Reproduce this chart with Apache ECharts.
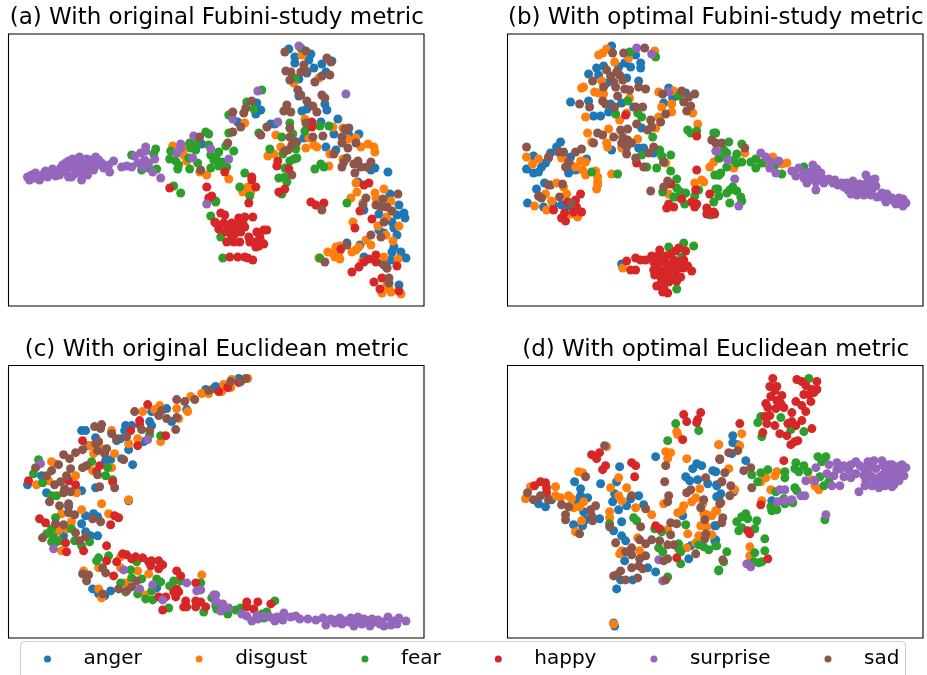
<!DOCTYPE html>
<html><head><meta charset="utf-8">
<script src="https://cdn.jsdelivr.net/npm/echarts@6/dist/echarts.min.js"></script>
<style>html,body{margin:0;padding:0;background:#fff}#c{width:927px;height:675px}</style>
</head><body><div id="c"></div>
<script>
const emotions=['anger','disgust','fear','happy','surprise','sad'];
const colors=['#1f77b4','#ff7f0e','#2ca02c','#d62728','#9467bd','#8c564b'];
const panelTitles=['(a) With original Fubini-study metric','(b) With optimal Fubini-study metric','(c) With original Euclidean metric','(d) With optimal Euclidean metric'];

const aAnger=[[193,110],[280,15],[286,23],[286,29],[302,20],[300,26],[298,39],[305,34],[313,30],[323,27],[317,38],[290,45],[290,62],[247,80],[252,76],[248,69],[229,88],[293,77],[298,75],[316,70],[318,76],[262,90],[266,90],[295,104],[312,88],[329,85],[325,100],[340,101],[350,100],[317,113],[327,116],[362,136],[366,134],[379,138],[349,148],[381,160],[370,180],[390,171],[388,181],[395,179],[396,184],[383,188],[385,194],[370,196],[388,201],[375,199],[338,209],[351,211],[355,223],[385,213],[383,218],[392,218],[397,224],[373,229],[382,226],[378,234],[390,251],[355,176],[288,108]];
const aDisgust=[[164,112],[175,121],[177,113],[178,127],[191,138],[198,141],[293,21],[285,49],[310,44],[236,89],[267,101],[259,122],[265,120],[272,113],[296,85],[297,114],[300,104],[305,111],[308,113],[287,113],[321,120],[320,132],[334,94],[324,93],[339,105],[347,104],[352,113],[359,110],[365,113],[366,118],[334,125],[220,145],[234,158],[239,153],[242,158],[347,149],[348,158],[342,164],[366,159],[375,155],[367,164],[382,167],[354,169],[344,188],[369,192],[378,183],[390,192],[377,201],[384,207],[357,206],[362,211],[350,213],[347,216],[343,218],[319,218],[327,213],[331,212],[324,219],[326,223],[331,225],[330,219],[310,224],[353,228],[375,223],[389,225],[378,251],[373,259],[382,258],[392,260],[380,254]];
const aFear=[[123,121],[147,115],[145,120],[133,136],[140,134],[148,135],[162,117],[161,125],[167,127],[170,131],[169,135],[181,109],[182,114],[188,110],[187,116],[197,98],[200,100],[200,111],[202,121],[205,126],[181,135],[189,129],[180,124],[202,134],[165,152],[172,159],[202,182],[207,168],[253,56],[238,68],[245,75],[220,81],[220,99],[250,99],[217,112],[225,117],[210,118],[207,124],[213,128],[210,132],[218,133],[236,139],[231,153],[241,162],[207,167],[286,44],[273,103],[281,89],[284,100],[296,97],[311,92],[320,92],[261,115],[274,120],[287,115],[281,127],[285,125],[288,124],[276,134],[270,144],[276,143],[278,148],[273,160],[306,135],[312,130],[315,133],[338,169],[212,203],[214,224],[311,224],[292,14]];
const aHappy=[[161,154],[198,153],[200,164],[203,162],[206,188],[216,138],[243,143],[243,146],[247,153],[240,169],[269,127],[268,132],[280,135],[270,158],[276,155],[303,88],[303,93],[355,151],[360,149],[302,168],[307,171],[315,169],[351,177],[363,185],[346,194],[332,215],[367,221],[343,238],[350,233],[355,228],[360,225],[367,228],[388,232],[365,248],[373,244],[371,255],[390,257],[212,179],[216,181],[207,189],[215,189],[223,189],[210,195],[217,198],[223,196],[230,184],[236,183],[244,183],[234,189],[236,193],[232,198],[223,203],[218,208],[225,208],[231,208],[241,208],[248,198],[255,196],[258,196],[251,203],[245,208],[255,210],[247,213],[250,212],[221,223],[229,223],[236,223],[239,224],[244,226],[219,195],[228,192],[226,200],[240,203],[252,207]];
const aSurprise=[[19,143],[21,146],[23,141],[27,139],[28,144],[32,143],[31,146],[37,137],[39,143],[42,139],[44,135],[47,142],[51,141],[52,134],[57,129],[57,138],[60,143],[63,143],[64,125],[66,131],[71,123],[72,129],[73,146],[73,139],[78,125],[79,141],[80,133],[82,126],[87,123],[85,136],[88,131],[93,129],[95,134],[101,138],[100,131],[105,127],[76,134],[68,134],[62,133],[55,136],[113,133],[118,132],[123,133],[126,122],[132,119],[137,113],[137,117],[129,129],[135,134],[136,126],[140,129],[146,125],[144,138],[152,144],[168,119],[172,110],[172,114],[184,124],[185,102],[202,115],[198,170],[290,12],[249,57],[224,85],[269,88],[220,125],[337,60],[25,144],[35,140],[49,138],[54,131],[60,127],[66,140],[70,128],[75,130],[83,132],[90,126]];
const aSad=[[191,103],[192,136],[276,18],[297,17],[295,31],[292,38],[297,37],[277,37],[282,38],[281,46],[306,48],[313,42],[321,41],[318,24],[322,28],[289,56],[292,61],[298,67],[313,61],[316,64],[304,72],[308,78],[278,71],[275,77],[282,78],[243,67],[237,74],[235,79],[224,78],[232,93],[224,98],[219,109],[258,93],[252,101],[281,94],[297,89],[304,103],[314,102],[281,103],[287,108],[283,111],[279,116],[276,117],[340,94],[336,95],[333,103],[333,109],[347,109],[339,114],[325,120],[338,124],[335,128],[333,133],[345,130],[349,127],[352,133],[346,139],[358,133],[362,128],[283,141],[313,176],[357,164],[354,171],[367,171],[389,160],[374,165],[372,173],[378,173],[383,177],[375,188],[362,201],[372,203],[338,211],[316,228],[375,231],[378,234],[380,244],[380,249]];

const bAnger=[[104,12],[128,21],[117,29],[123,33],[133,29],[133,34],[111,33],[96,32],[89,34],[81,40],[91,41],[99,49],[119,44],[131,47],[63,68],[81,67],[86,82],[93,82],[103,70],[101,78],[114,69],[161,54],[178,59],[165,64],[156,69],[126,73],[134,94],[104,116],[131,114],[136,114],[146,119],[53,108],[49,113],[43,119],[41,124],[38,129],[34,133],[26,122],[19,135],[26,139],[31,138],[63,123],[63,131],[61,139],[79,125],[68,136],[37,149],[29,155],[43,151],[33,163],[20,169],[36,173],[46,171],[54,171],[61,172],[114,230]];
const bDisgust=[[91,21],[95,19],[99,15],[107,28],[147,17],[121,24],[74,54],[76,53],[87,58],[91,59],[96,60],[94,47],[78,83],[112,86],[119,79],[122,64],[101,95],[80,99],[84,108],[99,109],[100,113],[114,114],[130,105],[19,123],[31,125],[25,130],[54,124],[73,127],[78,128],[68,133],[75,136],[78,141],[88,137],[90,143],[90,148],[90,151],[89,155],[104,140],[164,70],[154,73],[164,78],[151,83],[148,94],[151,58],[166,57],[185,79],[190,90],[49,149],[59,160],[56,153],[38,160],[44,167],[27,172],[39,176],[64,180],[70,183],[115,234],[161,160],[187,149],[194,146],[196,148],[202,133],[206,128],[158,129],[237,119],[226,134],[265,123],[258,129],[274,130],[279,129]];
const bFear=[[122,18],[148,23],[108,80],[120,67],[130,79],[134,83],[145,103],[171,62],[180,96],[183,99],[189,97],[206,99],[84,138],[110,140],[134,121],[139,133],[149,134],[152,116],[154,122],[163,121],[156,128],[163,137],[169,145],[169,154],[173,158],[178,159],[155,158],[166,163],[169,163],[177,170],[187,162],[191,156],[206,168],[210,155],[207,141],[211,141],[211,124],[186,212],[176,209],[161,213],[169,255],[174,223],[203,181],[208,99],[221,108],[216,116],[219,119],[234,110],[212,124],[229,120],[226,126],[229,129],[234,128],[243,128],[248,125],[248,134],[254,129],[267,131],[274,140],[219,133],[211,141],[213,139],[208,155],[211,162],[222,156],[225,153],[229,157],[219,159],[233,163],[234,167],[222,169],[296,133]];
const bHappy=[[118,81],[129,129],[189,102],[189,136],[188,156],[202,160],[163,150],[73,160],[68,166],[60,168],[69,173],[74,178],[66,178],[46,176],[57,179],[54,184],[58,187],[161,170],[159,174],[166,173],[174,165],[184,168],[187,173],[189,170],[199,174],[199,180],[206,178],[207,180],[119,227],[128,224],[133,226],[138,226],[144,222],[152,216],[168,217],[171,214],[178,217],[123,236],[128,236],[146,228],[146,236],[153,226],[158,229],[166,226],[173,228],[152,238],[158,236],[164,234],[171,234],[176,234],[184,237],[153,243],[161,241],[168,241],[173,243],[154,248],[161,248],[149,252],[156,254],[155,258],[160,259],[164,246],[150,222],[158,222],[163,220],[150,232],[157,243],[166,229],[176,226],[180,232],[169,247],[147,241]];
const bSurprise=[[129,14],[144,20],[161,58],[208,117],[209,117],[220,126],[253,119],[258,123],[263,128],[262,134],[271,127],[268,139],[227,145],[231,172],[284,137],[288,142],[291,134],[296,139],[296,144],[299,149],[305,131],[303,138],[309,135],[306,142],[311,141],[308,148],[314,144],[308,156],[316,149],[321,145],[325,149],[327,146],[334,149],[336,153],[339,149],[345,147],[343,154],[348,153],[343,160],[349,161],[354,154],[358,141],[356,161],[361,153],[359,149],[367,145],[368,152],[363,161],[369,163],[374,159],[379,160],[376,164],[378,168],[384,164],[391,164],[388,170],[395,165],[398,169],[395,172],[353,158],[346,157],[350,157],[357,157],[364,156],[347,152],[340,156],[372,162],[381,165],[386,167],[393,168],[352,150],[362,146],[330,151],[318,146],[313,139],[302,145]];
const bSad=[[116,19],[137,14],[105,19],[99,36],[103,42],[109,38],[112,41],[115,46],[85,47],[96,53],[106,48],[108,53],[110,62],[117,55],[122,56],[131,53],[138,55],[72,70],[82,73],[95,67],[98,70],[107,73],[128,73],[135,73],[174,57],[187,60],[155,60],[181,63],[176,68],[183,72],[179,77],[158,80],[143,86],[153,88],[129,90],[144,93],[140,96],[90,99],[95,101],[86,109],[106,103],[113,96],[120,95],[115,103],[120,106],[114,109],[124,109],[119,113],[119,120],[128,124],[141,119],[146,113],[136,133],[156,128],[160,147],[156,153],[143,157],[19,113],[41,123],[51,118],[56,118],[61,128],[58,133],[68,118],[74,115],[204,106],[41,151],[55,150],[31,162],[34,164],[52,163],[64,169],[208,109],[214,109],[237,114]];

const cAnger=[[205,23],[197,24],[158,43],[143,46],[163,56],[178,44],[141,56],[143,60],[117,60],[123,60],[116,65],[73,65],[77,65],[108,75],[112,73],[135,76],[120,84],[87,72],[80,80],[102,94],[97,95],[113,93],[124,99],[33,110],[19,119],[38,127],[87,122],[73,125],[120,135],[60,141],[77,150],[85,148],[89,151],[73,158],[77,166],[82,170],[89,170],[55,170],[84,223],[90,228],[96,230],[102,225],[148,222],[207,21],[230,13]];
const cDisgust=[[200,28],[193,28],[182,31],[168,43],[179,46],[151,40],[146,44],[134,46],[170,53],[152,76],[129,73],[120,78],[103,65],[82,80],[85,88],[93,83],[106,88],[43,96],[46,98],[67,110],[84,105],[103,102],[28,119],[40,115],[68,127],[120,134],[93,138],[53,148],[73,144],[100,148],[63,156],[50,165],[58,163],[75,205],[90,202],[90,223],[93,232],[112,191],[112,202],[129,205],[140,208],[117,217],[137,229],[193,209],[53,185],[215,19],[223,14],[222,22],[239,13],[213,26]];
const cFear=[[30,94],[25,108],[34,117],[43,130],[48,130],[83,96],[104,114],[97,110],[99,102],[141,69],[152,70],[47,152],[43,163],[38,168],[45,171],[43,176],[48,176],[63,163],[66,175],[73,180],[81,176],[51,175],[90,192],[100,190],[88,195],[128,196],[122,204],[112,217],[123,212],[133,213],[117,226],[129,228],[137,233],[144,234],[143,225],[148,213],[152,216],[161,220],[165,215],[172,215],[160,242],[192,217],[195,246],[203,232],[207,240],[208,243],[219,248],[227,244],[232,242],[266,235],[253,248],[258,246],[255,252]];
const cHappy=[[210,26],[139,39],[131,55],[131,59],[122,65],[74,75],[157,70],[129,80],[91,100],[88,106],[20,115],[60,115],[67,119],[104,116],[31,153],[37,157],[106,150],[110,152],[102,159],[57,177],[58,186],[75,185],[98,180],[98,195],[108,196],[105,210],[114,188],[118,189],[123,193],[127,191],[134,192],[140,196],[142,200],[143,195],[150,195],[154,199],[150,203],[168,205],[172,210],[187,217],[168,223],[170,226],[165,226],[167,231],[150,231],[157,231],[154,244],[175,241],[178,241],[177,235],[187,235],[187,241],[192,236],[197,241],[219,22],[230,17],[238,236],[238,241],[245,243],[249,236],[262,238]];
const cSurprise=[[32,98],[139,74],[45,183],[115,204],[131,223],[144,219],[154,234],[178,217],[188,225],[192,224],[205,229],[207,236],[212,245],[207,229],[208,236],[214,238],[220,242],[233,248],[238,250],[243,255],[248,250],[249,253],[255,250],[261,251],[266,255],[268,251],[275,247],[274,254],[282,251],[287,250],[291,253],[299,253],[307,254],[314,252],[317,259],[322,253],[326,257],[331,252],[333,258],[337,255],[342,252],[345,260],[346,256],[349,251],[355,253],[353,258],[361,260],[363,253],[369,254],[371,258],[375,260],[379,251],[382,259],[388,258],[390,252],[397,255],[328,254],[335,255],[340,256],[351,255],[358,255],[366,256],[373,256],[384,255]];
const cSad=[[200,25],[186,34],[176,36],[168,34],[153,45],[150,50],[158,53],[168,52],[167,64],[126,46],[133,64],[141,65],[93,59],[86,61],[92,63],[103,68],[108,73],[118,71],[90,76],[87,78],[74,84],[67,87],[61,93],[55,89],[50,99],[89,85],[98,83],[96,88],[115,94],[78,100],[74,102],[43,105],[38,110],[27,102],[62,103],[58,110],[52,116],[46,119],[56,123],[55,127],[62,126],[89,109],[91,121],[106,122],[41,136],[51,140],[60,138],[60,147],[66,149],[84,153],[92,156],[47,158],[55,159],[67,167],[34,172],[71,175],[77,171],[74,208],[80,209],[78,215],[94,202],[97,207],[94,228],[128,215],[123,221],[118,225],[110,223],[222,16],[232,16],[237,13]];

const dAnger=[[38,141],[31,138],[44,134],[67,116],[73,123],[73,130],[69,135],[80,132],[76,146],[78,154],[66,159],[75,160],[92,153],[93,118],[112,101],[109,116],[107,128],[105,136],[111,144],[119,140],[123,133],[131,130],[136,139],[114,156],[106,165],[114,170],[118,175],[117,195],[140,202],[148,206],[113,214],[125,214],[109,223],[106,257],[107,260],[148,91],[175,150],[181,193],[183,180],[207,160],[207,175],[189,98],[185,103],[194,100],[178,111],[182,115],[190,114],[200,118],[205,105],[209,119],[211,131],[225,70],[225,77],[230,79],[224,88],[238,95],[208,106],[209,120],[213,128],[209,131],[208,160],[264,135],[208,174],[226,126]];
const dDisgust=[[23,121],[18,133],[48,121],[48,130],[53,132],[61,130],[64,133],[71,106],[75,107],[76,136],[72,141],[66,142],[74,155],[68,166],[99,81],[103,122],[111,112],[119,122],[111,130],[114,135],[128,142],[102,146],[102,152],[144,149],[169,66],[170,69],[158,86],[163,87],[160,93],[179,93],[211,79],[192,123],[156,138],[188,132],[184,136],[176,140],[174,145],[170,147],[195,138],[208,145],[196,148],[204,150],[199,149],[193,160],[199,161],[204,169],[191,170],[160,164],[180,168],[188,177],[130,172],[132,185],[114,185],[112,188],[179,182],[106,258],[234,68],[211,79],[232,80],[221,103],[269,106],[267,110],[258,112],[253,116],[227,124],[209,145],[263,124],[304,114],[307,120],[311,124],[254,135],[242,181],[242,190]];
const dFear=[[168,58],[191,65],[160,75],[102,158],[126,152],[129,155],[147,163],[154,166],[178,159],[151,182],[155,186],[171,178],[171,183],[173,186],[173,198],[160,211],[211,204],[191,179],[196,181],[201,184],[208,180],[301,13],[253,51],[250,57],[273,52],[283,64],[296,66],[254,71],[310,91],[318,91],[314,96],[288,97],[296,100],[300,106],[287,103],[291,106],[260,104],[253,107],[244,109],[277,106],[277,112],[250,116],[312,111],[321,116],[316,120],[287,122],[289,125],[268,126],[276,133],[285,137],[277,138],[263,141],[269,144],[264,145],[317,154],[238,148],[234,151],[240,153],[229,156],[249,155],[247,163],[234,162],[231,165],[257,173],[247,187],[257,185],[246,196],[251,197],[254,196],[219,186],[216,196],[211,205],[209,180]];
const dHappy=[[27,120],[33,116],[38,117],[39,122],[39,127],[84,89],[92,87],[89,93],[95,104],[98,100],[124,97],[128,100],[127,111],[176,49],[179,56],[193,47],[190,54],[189,57],[175,74],[148,160],[152,163],[169,192],[265,13],[289,14],[294,16],[309,16],[262,21],[269,21],[267,25],[298,20],[309,24],[304,24],[296,29],[301,29],[306,27],[263,31],[274,30],[269,35],[273,38],[288,36],[294,40],[303,36],[258,38],[260,42],[268,43],[276,42],[298,46],[284,47],[257,51],[262,50],[294,55],[280,58],[288,60],[284,56],[259,58],[267,60],[304,63],[255,67],[272,68],[279,70],[232,58],[290,75],[287,76],[283,79],[276,95],[253,139],[240,165],[242,168],[260,193]];
const dSurprise=[[151,194],[155,215],[308,102],[321,99],[319,108],[329,97],[329,104],[326,110],[336,100],[336,111],[343,99],[348,96],[352,100],[348,108],[343,112],[356,110],[360,96],[366,95],[374,95],[361,101],[368,103],[381,99],[384,99],[394,99],[398,102],[389,101],[378,105],[384,106],[391,106],[396,110],[364,111],[372,111],[382,113],[391,115],[371,116],[378,116],[386,119],[357,120],[364,120],[371,122],[384,121],[351,126],[332,120],[324,120],[298,115],[307,115],[272,124],[277,124],[270,136],[277,135],[284,134],[293,130],[297,130],[318,149],[239,198],[243,201],[333,103],[341,104],[356,103],[375,100],[387,110],[375,109],[360,106],[368,115],[377,120],[358,115]];
const dSad=[[97,80],[78,111],[20,127],[26,134],[33,130],[41,134],[54,139],[61,141],[88,140],[83,144],[58,149],[58,154],[84,150],[85,155],[72,168],[102,161],[124,130],[138,143],[133,161],[108,177],[132,174],[138,178],[144,174],[152,175],[160,179],[166,179],[124,182],[118,186],[124,189],[138,190],[132,193],[124,202],[131,200],[135,203],[113,205],[106,210],[109,209],[118,214],[130,212],[158,100],[157,116],[161,130],[160,136],[183,124],[179,127],[163,157],[169,158],[163,169],[156,195],[160,193],[158,214],[188,188],[198,112],[196,134],[193,142],[197,154],[198,168],[197,173],[212,93],[214,116],[212,138],[221,87],[230,85],[212,94],[243,102],[236,105],[217,107],[214,116],[223,120],[222,130],[213,137],[215,152],[214,157],[215,194],[244,122]];

const panelData=[
  [aAnger,aDisgust,aFear,aHappy,aSurprise,aSad],
  [bAnger,bDisgust,bFear,bHappy,bSurprise,bSad],
  [cAnger,cDisgust,cFear,cHappy,cSurprise,cSad],
  [dAnger,dDisgust,dFear,dHappy,dSurprise,dSad]
];
const frames=[
  {left:8.5,top:34,width:415.5,height:272},
  {left:507.5,top:34,width:415.5,height:272},
  {left:8.5,top:365.5,width:415.5,height:272.5},
  {left:507.5,top:365.5,width:415.5,height:272.5}
];
const series=[];
panelData.forEach((arrs,p)=>arrs.forEach((pts,i)=>series.push({
  type:'scatter',name:emotions[i],xAxisIndex:p,yAxisIndex:p,data:pts,symbol:'circle',symbolSize:9,
  itemStyle:{color:colors[i],opacity:1},z:2+i,silent:true
})));
const chart=echarts.init(document.getElementById('c'),null,{renderer:'canvas'});
chart.setOption({
  animation:false,backgroundColor:'#fff',color:colors,
  title:frames.map((f,i)=>({text:panelTitles[i],left:f.left+f.width/2-4.5,top:f.top-32,textAlign:'center',
    textStyle:{fontFamily:'DejaVu Sans',fontSize:23,fontWeight:'normal',color:'#000'}})),
  grid:frames.map(f=>({left:f.left,top:f.top,width:f.width,height:f.height,show:true,backgroundColor:'#fff',borderColor:'#000',borderWidth:1.1,containLabel:false})),
  xAxis:frames.map((f,i)=>({gridIndex:i,type:'value',min:0,max:415,show:false,splitLine:{show:false}})),
  yAxis:frames.map((f,i)=>({gridIndex:i,type:'value',min:0,max:272,inverse:true,show:false,splitLine:{show:false}})),
  legend:{show:true,data:emotions.map(n=>({name:n,icon:'circle'})),left:44,top:649,orient:'horizontal',
    itemWidth:62,itemHeight:7,itemGap:54,symbolKeepAspect:true,padding:0,
    textStyle:{fontFamily:'DejaVu Sans',fontSize:20,color:'#000',padding:[0,0,0,0]},selectedMode:false},
  graphic:[{type:'rect',silent:true,z:0,shape:{x:20.5,y:641.5,width:885,height:44,r:4},style:{fill:'#fff',stroke:'#ccc',lineWidth:1}}],
  series
});
</script></body></html>
